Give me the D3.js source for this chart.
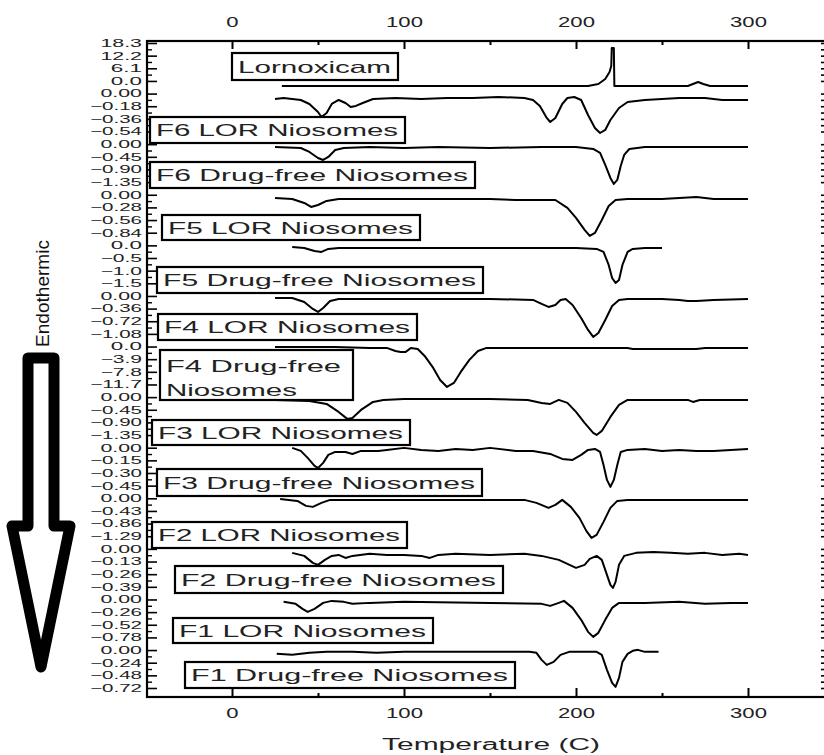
<!DOCTYPE html>
<html><head><meta charset="utf-8">
<script src="https://cdn.jsdelivr.net/npm/d3@7"></script>
<style>
html,body{margin:0;padding:0;background:#fff;overflow:hidden}
svg{display:block}
</style></head>
<body>
<svg id="chart" width="824" height="755"></svg>
<script>
// ---------------- data ----------------
const X_TICKS = [0, 100, 200, 300];
const X_MINOR = [50, 150, 250];

const names = [
  ["Lornoxicam"], ["F6 LOR Niosomes"], ["F6 Drug-free Niosomes"], ["F5 LOR Niosomes"],
  ["F5 Drug-free Niosomes"], ["F4 LOR Niosomes"], ["F4 Drug-free", "Niosomes"], ["F3 LOR Niosomes"],
  ["F3 Drug-free Niosomes"], ["F2 LOR Niosomes"], ["F2 Drug-free Niosomes"], ["F1 LOR Niosomes"],
  ["F1 Drug-free Niosomes"]
];

const yTicks = [
  [18.3, 12.2, 6.1, 0.0], [0.00, -0.18, -0.36, -0.54], [0.00, -0.45, -0.90, -1.35],
  [0.00, -0.28, -0.56, -0.84], [0.0, -0.5, -1.0, -1.5], [0.00, -0.36, -0.72, -1.08],
  [0.0, -3.9, -7.8, -11.7], [0.00, -0.45, -0.90, -1.35], [0.00, -0.15, -0.30, -0.45],
  [0.00, -0.43, -0.86, -1.29], [0.00, -0.13, -0.26, -0.39], [0.00, -0.26, -0.52, -0.78],
  [0.00, -0.24, -0.48, -0.72]
];
const yTickDigits = [1, 2, 2, 2, 1, 2, 1, 2, 2, 2, 2, 2, 2];

const lornoxicam = [[29,-2.43],[60,-2.43],[100,-2.43],[150,-2.43],[207,-2.43],[213,-1.47],[217,0.94],[219.5,4.32],[220.5,7.21],[220.8,15.89],[222,15.89],[222.3,-2.43],[240,-2.43],[265,-2.43],[268,-1.5],[271,-0.51],[274,-1.5],[278,-2.43],[300,-2.43]];
const f6Lor = [[25,-0.077],[30,-0.063],[40,-0.091],[45,-0.148],[50,-0.262],[52,-0.333],[55,-0.276],[58,-0.148],[62,-0.091],[66,-0.134],[69,-0.191],[72,-0.176],[76,-0.134],[82,-0.077],[95,-0.063],[110,-0.077],[125,-0.063],[140,-0.063],[155,-0.048],[170,-0.063],[175,-0.091],[179,-0.176],[183,-0.347],[185,-0.404],[188,-0.347],[192,-0.148],[195,-0.063],[199,-0.048],[203,-0.091],[207,-0.305],[211,-0.49],[214,-0.561],[217,-0.518],[220,-0.376],[225,-0.205],[230,-0.12],[240,-0.091],[260,-0.063],[275,-0.063],[285,-0.091],[300,-0.091]];
const f6Free = [[25,-0.10],[40,-0.135],[45,-0.277],[50,-0.491],[53,-0.562],[56,-0.455],[60,-0.206],[65,-0.135],[80,-0.10],[100,-0.135],[120,-0.10],[150,-0.135],[180,-0.10],[200,-0.10],[210,-0.171],[214,-0.313],[217,-0.74],[220,-1.202],[222,-1.416],[224,-1.273],[226,-0.775],[228,-0.384],[231,-0.171],[240,-0.10],[260,-0.10],[280,-0.10],[300,-0.10]];
const f5Lor = [[25,-0.071],[35,-0.093],[42,-0.181],[46,-0.27],[50,-0.226],[55,-0.137],[62,-0.093],[100,-0.093],[150,-0.093],[165,-0.115],[180,-0.115],[188,-0.115],[195,-0.292],[200,-0.513],[205,-0.779],[208,-0.912],[211,-0.845],[215,-0.558],[219,-0.248],[223,-0.115],[230,-0.093],[250,-0.093],[260,-0.071],[270,-0.049],[280,-0.093],[300,-0.093]];
const f5Free = [[35,-0.063],[42,-0.103],[48,-0.221],[52,-0.261],[56,-0.142],[62,-0.103],[100,-0.103],[150,-0.103],[200,-0.103],[212,-0.142],[216,-0.261],[219,-0.775],[221,-1.289],[223,-1.486],[225,-1.368],[227,-0.775],[230,-0.261],[233,-0.142],[240,-0.103],[250,-0.103]];
const f4Lor = [[25,-0.057],[35,-0.057],[42,-0.171],[47,-0.37],[50,-0.455],[53,-0.342],[57,-0.142],[62,-0.085],[100,-0.085],[150,-0.085],[175,-0.114],[180,-0.228],[184,-0.313],[188,-0.256],[191,-0.114],[194,-0.085],[198,-0.256],[203,-0.626],[207,-0.968],[210,-1.167],[213,-1.053],[217,-0.683],[221,-0.285],[225,-0.114],[230,-0.085],[250,-0.085],[260,-0.114],[265,-0.142],[270,-0.142],[280,-0.114],[300,-0.085]];
const f4Free = [[25,-0.12],[60,-0.12],[80,-0.43],[90,-0.43],[95,-1.36],[98,-1.66],[101,-1.66],[104,-0.43],[108,-0.74],[112,-2.9],[117,-6.6],[121,-10.3],[125,-12.46],[129,-11.22],[133,-7.83],[138,-4.13],[143,-1.36],[148,-0.43],[200,-0.43],[230,-0.43],[233,-0.74],[270,-0.74],[275,-0.43],[300,-0.43]];
const f3Lor = [[25,-0.10],[45,-0.135],[55,-0.242],[62,-0.526],[67,-0.775],[70,-0.74],[75,-0.455],[82,-0.171],[88,-0.10],[100,-0.064],[150,-0.064],[172,-0.10],[180,-0.206],[185,-0.242],[190,-0.10],[195,-0.206],[200,-0.526],[205,-0.918],[210,-1.273],[212,-1.345],[215,-1.202],[220,-0.704],[225,-0.277],[230,-0.10],[265,-0.10],[268,-0.171],[272,-0.10],[300,-0.10]];
const f3Free = [[35,-0.002],[40,-0.038],[44,-0.121],[48,-0.216],[50,-0.24],[53,-0.18],[56,-0.085],[60,-0.05],[66,-0.05],[70,-0.074],[75,-0.038],[85,-0.038],[90,-0.026],[100,-0.002],[110,-0.026],[120,-0.038],[130,-0.014],[140,-0.026],[150,-0.002],[165,-0.038],[175,-0.038],[185,-0.074],[192,-0.133],[198,-0.145],[203,-0.085],[207,-0.026],[211,-0.014],[214,-0.05],[216,-0.204],[218,-0.382],[220,-0.465],[222,-0.382],[224,-0.204],[226,-0.05],[230,-0.026],[240,-0.014],[250,-0.038],[260,-0.026],[270,-0.038],[280,-0.038],[290,-0.026],[300,-0.014]];
const f2Lor = [[28,-0.02],[38,-0.088],[43,-0.258],[47,-0.292],[52,-0.156],[57,-0.054],[100,-0.054],[170,-0.054],[177,-0.156],[184,-0.326],[188,-0.224],[192,-0.054],[197,-0.292],[202,-0.666],[206,-1.108],[209,-1.346],[212,-1.244],[216,-0.802],[220,-0.326],[224,-0.088],[230,-0.054],[300,-0.054]];
const f2Free = [[35,-0.041],[42,-0.072],[47,-0.144],[50,-0.164],[54,-0.113],[58,-0.072],[62,-0.062],[66,-0.093],[70,-0.072],[80,-0.051],[90,-0.062],[100,-0.062],[110,-0.072],[115,-0.093],[120,-0.062],[130,-0.051],[150,-0.062],[170,-0.051],[180,-0.072],[190,-0.113],[200,-0.195],[205,-0.164],[208,-0.103],[212,-0.072],[215,-0.113],[218,-0.267],[220,-0.37],[221.5,-0.401],[223,-0.339],[225,-0.164],[228,-0.072],[235,-0.041],[245,-0.031],[255,-0.041],[265,-0.051],[275,-0.041],[285,-0.062],[295,-0.051],[300,-0.062]];
const f1Lor = [[30,-0.049],[37,-0.09],[41,-0.193],[44,-0.255],[48,-0.193],[53,-0.07],[58,-0.029],[65,-0.049],[70,-0.09],[80,-0.07],[100,-0.049],[150,-0.07],[180,-0.09],[185,-0.132],[190,-0.07],[193,-0.029],[198,-0.173],[203,-0.419],[207,-0.666],[210,-0.769],[213,-0.686],[217,-0.419],[221,-0.173],[225,-0.07],[240,-0.07],[260,-0.049],[275,-0.09],[290,-0.07],[300,-0.07]];
const f1Free = [[26,-0.072],[35,-0.091],[45,-0.053],[55,-0.034],[70,-0.034],[84,-0.053],[100,-0.034],[140,-0.034],[173,-0.034],[177,-0.053],[180,-0.186],[183,-0.281],[187,-0.224],[191,-0.091],[196,-0.034],[205,-0.034],[212,-0.034],[215,-0.091],[218,-0.376],[221,-0.622],[223,-0.698],[225,-0.528],[227,-0.224],[230,-0.072],[233,-0.015],[236,0.004],[240,-0.034],[248,-0.034]];

const series = [lornoxicam, f6Lor, f6Free, f5Lor, f5Free, f4Lor, f4Free, f3Lor, f3Free, f2Lor, f2Free, f1Lor, f1Free];

// ---------------- layout ----------------
const frame = {left: 147, right: 827, top: 41, bottom: 697};
const labelTop = 43, labelBottom = 688;
const step = (labelBottom - labelTop) / 51;
// label boxes [x0, y0, x1, y1]
const boxes = [
  [232,53,398,80],[150,117,405,143],[150,162,475,188],[162,215,420,240],
  [157,267,483,293],[158,314,417,340],[160,350,353,400],[152,420,410,445],
  [157,469,482,496],[152,522,407,548],[175,566,503,593],[173,618,433,643],
  [185,662,515,688]
];
const FONT = "'Liberation Sans', Arial, sans-serif";
const INK = "#222";

const svg = d3.select("#chart");
svg.append("rect").attr("width",824).attr("height",755).attr("fill","#fff");

const x = d3.scaleLinear().domain([0, 300]).range([232, 748]);

svg.append("defs").append("clipPath").attr("id","plotclip")
  .append("rect").attr("x",frame.left).attr("y",frame.top)
  .attr("width",frame.right-frame.left).attr("height",frame.bottom-frame.top);

const yScales = yTicks.map((t, i) => {
  const y0 = labelTop + 4 * i * step;
  return d3.scaleLinear().domain([t[0], t[3]]).range([y0, y0 + 3 * step]);
});

// traces
const plot = svg.append("g").attr("clip-path","url(#plotclip)");
series.forEach((d, i) => {
  const line = d3.line().x(p => x(p[0])).y(p => yScales[i](p[1])).curve(d3.curveLinear);
  plot.append("path").datum(d).attr("d", line)
    .attr("fill","none").attr("stroke","#000").attr("stroke-width",2)
    .attr("stroke-linejoin","round");
});

// left axes (one per trace)
yScales.forEach((ys, i) => {
  const fmt = d3.format("." + yTickDigits[i] + "f");
  const g = svg.append("g").attr("transform", `translate(${frame.left},0)`)
    .call(d3.axisLeft(ys).tickValues(yTicks[i]).tickSize(-10).tickPadding(5).tickFormat(fmt));
  g.select(".domain").remove();
  g.selectAll(".tick line").attr("stroke","#000").attr("stroke-width",1.6);
  g.selectAll(".tick text").attr("fill",INK).attr("font-family",FONT).attr("font-size",10.5)
    .attr("lengthAdjust","spacingAndGlyphs")
    .attr("textLength", function(){ return this.textContent.length * 10.4; });
  // minor ticks between major ticks
  const minors = d3.range(3).map(k => (yTicks[i][k] + yTicks[i][k+1]) / 2);
  const gm = svg.append("g").attr("transform", `translate(${frame.left},0)`)
    .call(d3.axisLeft(ys).tickValues(minors).tickSize(-5).tickFormat(""));
  gm.select(".domain").remove();
  gm.selectAll(".tick line").attr("stroke","#000").attr("stroke-width",1.4);
  // right side ticks
  const gr = svg.append("g").attr("transform", `translate(${frame.right},0)`)
    .call(d3.axisRight(ys).tickValues(yTicks[i].concat(minors)).tickSize(-6).tickFormat(""));
  gr.select(".domain").remove();
  gr.selectAll(".tick line").attr("stroke","#000").attr("stroke-width",1.6);
});

// top & bottom axes
function styleX(g){
  g.select(".domain").remove();
  g.selectAll(".tick line").attr("stroke","#000").attr("stroke-width",2);
  g.selectAll(".tick text").attr("fill",INK).attr("font-family",FONT).attr("font-size",14)
    .attr("lengthAdjust","spacingAndGlyphs")
    .attr("textLength", function(){ return this.textContent.length * 12.3; });
}
svg.append("g").attr("transform",`translate(0,${frame.top})`)
  .call(d3.axisTop(x).tickValues(X_TICKS).tickSize(-8).tickPadding(14).tickFormat(d3.format("d"))).call(styleX);
svg.append("g").attr("transform",`translate(0,${frame.bottom})`)
  .call(d3.axisBottom(x).tickValues(X_TICKS).tickSize(-9).tickPadding(11).tickFormat(d3.format("d"))).call(styleX);
svg.append("g").attr("transform",`translate(0,${frame.top})`)
  .call(d3.axisTop(x).tickValues(X_MINOR).tickSize(-4).tickFormat("")).call(styleX);
svg.append("g").attr("transform",`translate(0,${frame.bottom})`)
  .call(d3.axisBottom(x).tickValues(X_MINOR).tickSize(-4).tickFormat("")).call(styleX);

// frame
svg.append("rect").attr("x",frame.left).attr("y",frame.top)
  .attr("width",frame.right-frame.left).attr("height",frame.bottom-frame.top)
  .attr("fill","none").attr("stroke","#000").attr("stroke-width",2.2);

// label boxes
names.forEach((lines, i) => {
  const [x0,y0,x1,y1] = boxes[i];
  svg.append("rect").attr("x",x0).attr("y",y0).attr("width",x1-x0).attr("height",y1-y0)
    .attr("fill","#fff").attr("stroke","#000").attr("stroke-width",2.2);
  lines.forEach((s, k) => {
    const tl = lines.length === 1 ? (x1 - x0 - 13) : (k === 0 ? 175 : 131);
    svg.append("text").attr("x", x0 + 6)
      .attr("y", lines.length === 1 ? (y0 + y1) / 2 + 6 : y0 + 22 + k * 24)
      .attr("font-family",FONT).attr("font-size",16.5).attr("fill",INK)
      .attr("textLength", tl).attr("lengthAdjust","spacingAndGlyphs")
      .text(s);
  });
});

// x-axis title
svg.append("text").attr("x",382).attr("y",750)
  .attr("font-family",FONT).attr("font-size",16).attr("fill",INK)
  .attr("textLength",218).attr("lengthAdjust","spacingAndGlyphs")
  .text("Temperature (C)");

// Endothermic label + arrow
svg.append("text").attr("transform","translate(49,347) rotate(-90)")
  .attr("font-family",FONT).attr("font-size",19).attr("fill","#111")
  .attr("textLength",107).attr("lengthAdjust","spacingAndGlyphs")
  .text("Endothermic");
svg.append("path")
  .attr("d","M28,358 L54,358 L54,526 L70,526 L41,667 L12,526 L28,526 Z")
  .attr("fill","#fff").attr("stroke","#000").attr("stroke-width",11)
  .attr("stroke-linejoin","round");
</script>
</body></html>
